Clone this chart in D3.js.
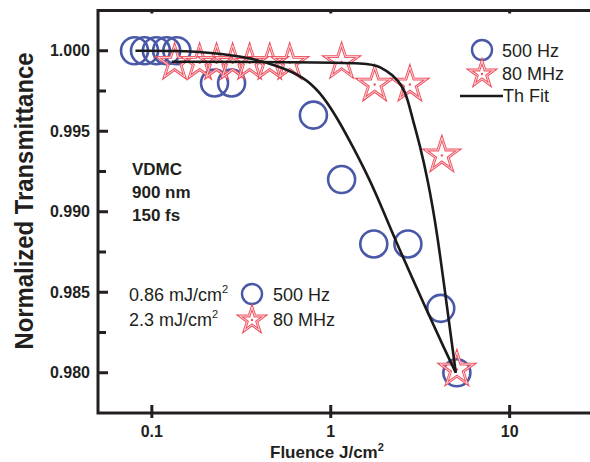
<!DOCTYPE html>
<html>
<head>
<meta charset="utf-8">
<script src="https://cdn.jsdelivr.net/npm/d3@7"></script>
<style>
  body { margin: 0; background: #fff; }
  svg { display: block; }
  text { font-family: "Liberation Sans", Arial, sans-serif; fill: #231f20; }
</style>
</head>
<body>
<script>
// values
const fluenceHz = [0.080, 0.091, 0.106, 0.121, 0.138, 0.224, 0.279, 0.80, 1.15, 1.74, 2.70, 4.12, 5.07];
const transHz   = [1.000, 1.000, 1.000, 1.000, 1.000, 0.998, 0.998, 0.996, 0.992, 0.988, 0.988, 0.984, 0.980];

const fluenceMHz = [0.134, 0.185, 0.230, 0.283, 0.352, 0.456, 0.590, 1.15, 1.76, 2.77, 4.18, 5.07];
const transMHz   = [0.99925, 0.99925, 0.99925, 0.99925, 0.99925, 0.99925, 0.99925, 0.9993, 0.9979, 0.9979, 0.9935, 0.9802];

// theory fit curves
const fitHzX = [0.081, 0.134, 0.2245, 0.352, 0.519, 0.697, 0.868, 1.076, 1.327, 1.652, 1.954, 2.330, 3.487, 4.341, 5.0];
const fitHzY = [1.0000, 1.0000, 0.99988, 0.99957, 0.99902, 0.99840, 0.99747, 0.99592, 0.99406, 0.99199, 0.99012, 0.98807, 0.98373, 0.98143, 0.9800];
const fitMHzX = [0.129, 0.671, 1.652, 1.879, 2.222, 2.527, 2.696, 2.875, 3.146, 3.487, 3.915, 4.51, 5.0];
const fitMHzY = [0.99932, 0.99929, 0.99924, 0.99902, 0.99851, 0.99778, 0.99696, 0.99571, 0.99416, 0.99199, 0.98888, 0.98373, 0.9800];

const xTicks = [0.1, 1, 10];
const xTickLabels = ["0.1", "1", "10"];
const yTicks = [0.980, 0.985, 0.990, 0.995, 1.000];
const yMinorTicks = [0.9825, 0.9875, 0.9925, 0.9975];

const W = 590, H = 462;
const blue = "#4a58a8", red = "#ef5260", ink = "#231f20";

const svg = d3.select("body").append("svg").attr("width", W).attr("height", H);

const x = d3.scaleLog().domain([0.05, 30]).range([98, 595]);
const y = d3.scaleLinear().domain([0.9775, 1.0025]).range([413, 10.5]);

// frame
svg.append("rect")
  .attr("x", x.range()[0]).attr("y", y.range()[1])
  .attr("width", x.range()[1] - x.range()[0])
  .attr("height", y.range()[0] - y.range()[1])
  .attr("fill", "none").attr("stroke", ink).attr("stroke-width", 3);

// x ticks (bottom crosses the axis, top small inward)
svg.selectAll(".xt").data(xTicks).enter().append("line")
  .attr("x1", d => x(d)).attr("x2", d => x(d))
  .attr("y1", y.range()[0] - 8).attr("y2", y.range()[0] + 5)
  .attr("stroke", ink).attr("stroke-width", 3);
svg.selectAll(".xtt").data(xTicks).enter().append("line")
  .attr("x1", d => x(d)).attr("x2", d => x(d))
  .attr("y1", y.range()[1]).attr("y2", y.range()[1] + 3)
  .attr("stroke", ink).attr("stroke-width", 3);
svg.selectAll(".xl").data(xTicks).enter().append("text")
  .attr("x", d => x(d)).attr("y", 437)
  .attr("text-anchor", "middle")
  .style("font-size", "16px").style("font-weight", "bold")
  .text((d, i) => xTickLabels[i]);

// y ticks
svg.selectAll(".yt").data(yTicks).enter().append("line")
  .attr("x1", x.range()[0]).attr("x2", x.range()[0] + 10)
  .attr("y1", d => y(d)).attr("y2", d => y(d))
  .attr("stroke", ink).attr("stroke-width", 3);
svg.selectAll(".ytm").data(yMinorTicks).enter().append("line")
  .attr("x1", x.range()[0]).attr("x2", x.range()[0] + 8)
  .attr("y1", d => y(d)).attr("y2", d => y(d))
  .attr("stroke", ink).attr("stroke-width", 3);
svg.selectAll(".yl").data(yTicks).enter().append("text")
  .attr("x", 90).attr("y", d => y(d) + 5.5)
  .attr("text-anchor", "end")
  .style("font-size", "16px").style("font-weight", "bold")
  .text(d => d3.format(".3f")(d));

// axis titles
svg.append("text")
  .attr("transform", "translate(33,201) rotate(-90)")
  .attr("text-anchor", "middle")
  .attr("textLength", 297).attr("lengthAdjust", "spacingAndGlyphs")
  .style("font-size", "25px").style("font-weight", "bold")
  .text("Normalized Transmittance");

const xt = svg.append("text")
  .attr("x", 270).attr("y", 458)
  .style("font-size", "17px").style("font-weight", "bold");
xt.append("tspan").text("Fluence J/cm");
xt.append("tspan").attr("dy", -7).style("font-size", "11px").text("2");

// marker helpers
const starPath = r => d3.symbol(d3.symbolStar, r * r / 0.8908130915292852)();

function drawStar(g, cx, cy, r) {
  const p = starPath(r);
  g.append("path").attr("d", p).attr("transform", `translate(${cx},${cy})`)
    .attr("fill", "none").attr("stroke", red).attr("stroke-width", 2.8).attr("stroke-linejoin", "miter");
  g.append("path").attr("d", p).attr("transform", `translate(${cx},${cy})`)
    .attr("fill", "none").attr("stroke", "#fff").attr("stroke-width", 0.9).attr("stroke-opacity", 0.85);
  g.append("circle").attr("cx", cx).attr("cy", cy).attr("r", 1.2).attr("fill", red);
}

// 500 Hz circles
svg.append("g").selectAll("circle").data(fluenceHz).enter().append("circle")
  .attr("cx", d => x(d)).attr("cy", (d, i) => y(transHz[i]))
  .attr("r", 13.5)
  .attr("fill", "none").attr("stroke", blue).attr("stroke-width", 2.6);

// 80 MHz stars
const gs = svg.append("g");
fluenceMHz.forEach((d, i) => drawStar(gs, x(d), y(transMHz[i]), 17.5));

// fit lines
const line = d3.line().x(d => x(d[0])).y(d => y(d[1])).curve(d3.curveBasis);
[[fitHzX, fitHzY], [fitMHzX, fitMHzY]].forEach(([xs, ys]) => {
  svg.append("path")
    .attr("d", line(xs.map((v, i) => [v, ys[i]])))
    .attr("fill", "none").attr("stroke", "#1a1a1a").attr("stroke-width", 2.6);
});

// legend (top right)
svg.append("circle").attr("cx", 482).attr("cy", 50).attr("r", 10)
  .attr("fill", "none").attr("stroke", blue).attr("stroke-width", 2.4);
drawStar(svg, 482, 74, 13);
svg.append("line").attr("x1", 460).attr("x2", 503).attr("y1", 96).attr("y2", 96)
  .attr("stroke", "#1a1a1a").attr("stroke-width", 2.6);
[["500 Hz", 57], ["80 MHz", 80], ["Th Fit", 102]].forEach(([t, yy], i) => {
  svg.append("text").attr("x", i === 2 ? 503 : 502).attr("y", yy)
    .style("font-size", "18px").text(t);
});

// sample annotation
["VDMC", "900 nm", "150 fs"].forEach((t, i) => {
  svg.append("text").attr("x", 132).attr("y", 175 + i * 23)
    .style("font-size", "17px").style("font-weight", "bold").text(t);
});

// fluence legend (bottom left)
[["0.86 mJ/cm", 301], ["2.3 mJ/cm", 326]].forEach(([t, yy]) => {
  const tx = svg.append("text").attr("x", 129).attr("y", yy).style("font-size", "18px");
  tx.append("tspan").text(t);
  tx.append("tspan").attr("dy", -8).style("font-size", "11px").text("2");
});
svg.append("circle").attr("cx", 252).attr("cy", 294).attr("r", 10)
  .attr("fill", "none").attr("stroke", blue).attr("stroke-width", 2.4);
drawStar(svg, 252, 320, 13);
[["500 Hz", 301], ["80 MHz", 326]].forEach(([t, yy]) => {
  svg.append("text").attr("x", 273).attr("y", yy).style("font-size", "18px").text(t);
});
</script>
</body>
</html>
